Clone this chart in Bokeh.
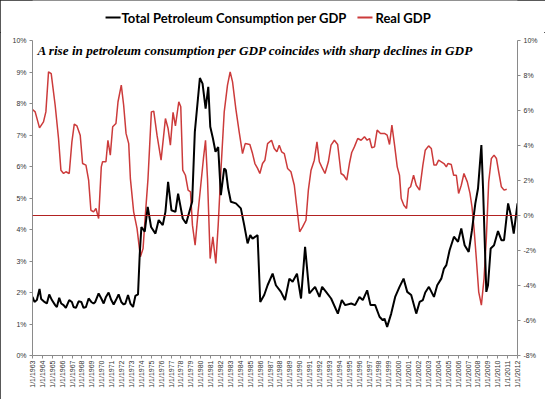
import math
from bokeh.plotting import figure
from bokeh.layouts import column
from bokeh.models import (Range1d, LinearAxis, FixedTicker, PrintfTickFormatter,
                          Span, Label)
from bokeh.core.properties import value
from bokeh.embed import file_html
from bokeh.resources import INLINE

# ---- data ----
petro_year = [1963.0, 1963.2, 1963.44, 1963.71, 1963.88, 1964.21, 1964.45, 1964.69, 1964.96,
              1965.29, 1965.46, 1965.7, 1965.9, 1966.14, 1966.37, 1966.71, 1966.98, 1967.15,
              1967.39, 1967.66, 1967.93, 1968.16, 1968.4, 1968.67, 1968.94, 1969.17, 1969.34,
              1969.68, 1969.95, 1970.19, 1970.42, 1970.69, 1970.96, 1971.2, 1971.43, 1971.7,
              1971.97, 1972.21, 1972.38, 1972.65, 1972.89, 1973.16, 1973.39, 1973.66, 1973.83,
              1974.0, 1974.34, 1974.64, 1974.98, 1975.42, 1975.75, 1976.16, 1976.43, 1976.7,
              1977.04, 1977.44, 1977.71, 1978.18, 1978.52, 1979.13, 1979.4, 1979.91, 1980.18,
              1980.49, 1980.76, 1980.96, 1981.23, 1981.49, 1981.76, 1982.03, 1982.37, 1982.54,
              1982.77, 1983.04, 1983.55, 1984.05, 1984.39, 1984.73, 1985.0, 1985.23, 1985.74,
              1986.01, 1986.41, 1986.75, 1987.26, 1987.59, 1988.1, 1988.51, 1988.95, 1989.28,
              1989.72, 1990.13, 1990.54, 1990.97, 1991.55, 1991.99, 1992.26, 1992.66, 1993.17,
              1993.85, 1994.25, 1994.59, 1995.2, 1995.59, 1996.03, 1996.37, 1996.81, 1997.15,
              1997.62, 1998.06, 1998.39, 1998.56, 1998.83, 1999.24, 1999.64, 2000.08, 2000.49,
              2000.86, 2001.26, 2001.77, 2002.11, 2002.44, 2002.68, 2003.05, 2003.56, 2003.89,
              2004.3, 2004.57, 2004.81, 2005.14, 2005.58, 2005.99, 2006.32, 2006.66, 2007.07,
              2007.4, 2007.74, 2008.01, 2008.35, 2008.52, 2008.85, 2009.02, 2009.29, 2009.63,
              2010.03, 2010.37, 2010.64, 2011.05, 2011.32, 2011.62, 2012.0]
petro_pct = [1.86, 1.70, 1.76, 2.11, 1.79, 1.70, 1.65, 1.94, 1.76,
             1.60, 1.54, 1.83, 1.65, 1.60, 1.51, 1.76, 1.70, 1.54,
             1.51, 1.72, 1.70, 1.51, 1.54, 1.81, 1.70, 1.65, 1.70,
             1.97, 1.81, 1.65, 1.86, 2.00, 1.76, 1.62, 1.76, 1.94,
             1.70, 1.62, 1.65, 1.92, 1.65, 1.54, 1.89, 1.94, 3.19,
             4.08, 3.93, 4.72, 4.08, 3.87, 4.30, 4.14, 4.56, 5.51,
             4.61, 4.56, 5.14, 4.35, 4.19, 4.88, 7.10, 8.81, 8.63,
             7.84, 8.53, 7.26, 6.89, 6.47, 6.62, 5.09, 5.94, 5.88,
             5.30, 4.88, 4.83, 4.67, 4.14, 3.56, 3.82, 3.71, 3.82,
             1.70, 1.92, 2.23, 2.60, 2.23, 2.02, 1.76, 2.44, 2.34,
             2.60, 1.81, 3.45, 1.97, 2.18, 1.86, 2.18, 2.02, 1.81,
             1.33, 1.76, 1.60, 1.65, 1.60, 1.86, 1.76, 2.07, 1.60,
             1.60, 1.23, 1.12, 1.17, 0.91, 1.33, 1.86, 2.18, 2.44,
             2.02, 1.92, 1.33, 1.70, 1.76, 2.00, 2.18, 1.86, 2.23,
             2.44, 2.76, 2.87, 3.34, 3.77, 3.61, 4.03, 3.50, 3.29,
             3.98, 4.83, 5.30, 6.68, 5.30, 2.02, 2.23, 3.40, 3.50,
             3.95, 3.66, 3.66, 4.83, 4.46, 3.87, 4.83]

gdp_year = [1963.0, 1963.27, 1963.71, 1964.11, 1964.35, 1964.62, 1964.89, 1965.29, 1965.63,
            1965.87, 1966.14, 1966.37, 1966.71, 1966.98, 1967.22, 1967.49, 1967.82, 1968.06,
            1968.4, 1968.67, 1968.9, 1969.17, 1969.41, 1969.68, 1969.95, 1970.08, 1970.42,
            1970.62, 1970.86, 1971.1, 1971.43, 1971.64, 1971.97, 1972.21, 1972.45, 1972.72,
            1972.89, 1973.22, 1973.56, 1973.9, 1974.17, 1974.4, 1974.67, 1975.01, 1975.25,
            1975.58, 1975.99, 1976.43, 1976.7, 1976.93, 1977.2, 1977.44, 1977.78, 1977.98,
            1978.18, 1978.45, 1978.72, 1978.96, 1979.16, 1979.43, 1979.73, 1980.0, 1980.27,
            1980.48, 1980.68, 1980.95, 1981.22, 1981.52, 1981.76, 1982.03, 1982.37, 1982.7,
            1982.97, 1983.21, 1983.54, 1983.88, 1984.22, 1984.49, 1984.96, 1985.23, 1985.47,
            1985.74, 1985.97, 1986.24, 1986.48, 1986.75, 1987.15, 1987.42, 1987.69, 1987.93,
            1988.17, 1988.44, 1988.77, 1989.11, 1989.45, 1989.72, 1989.99, 1990.29, 1990.63,
            1990.87, 1991.14, 1991.47, 1991.74, 1991.98, 1992.22, 1992.55, 1992.89, 1993.16,
            1993.5, 1993.83, 1994.17, 1994.44, 1994.75, 1995.02, 1995.25, 1995.52, 1995.86,
            1996.2, 1996.54, 1996.81, 1997.05, 1997.28, 1997.55, 1997.82, 1998.16, 1998.56,
            1998.83, 1999.07, 1999.31, 1999.58, 1999.85, 2000.08, 2000.25, 2000.52, 2000.79,
            2000.99, 2001.2, 2001.5, 2001.77, 2002.11, 2002.44, 2002.68, 2003.02, 2003.29,
            2003.56, 2003.79, 2004.03, 2004.3, 2004.57, 2004.81, 2004.97, 2005.31, 2005.55,
            2005.82, 2006.05, 2006.32, 2006.59, 2006.93, 2007.2, 2007.4, 2007.61, 2007.84,
            2008.08, 2008.35, 2008.62, 2008.85, 2009.09, 2009.36, 2009.63, 2009.87, 2010.1,
            2010.37, 2010.64, 2010.91]
gdp_pct = [6.06, 5.92, 5.01, 5.35, 5.92, 8.21, 8.11, 6.30, 4.40,
           2.59, 2.40, 2.50, 2.40, 4.21, 5.22, 5.12, 4.59, 2.97,
           2.88, 2.02, 0.30, 0.21, 0.40, -0.17, 2.78, 3.07, 3.07,
           4.30, 3.45, 5.07, 5.26, 6.50, 7.45, 6.30, 4.69, 4.11,
           2.11, 0.21, -0.74, -2.36, -1.89, 0.02, 2.11, 5.92, 5.96,
           4.59, 3.16, 5.54, 4.97, 4.02, 5.89, 5.12, 6.50, 6.21,
           2.59, 2.30, 1.45, 1.35, -0.55, -1.70, 0.21, 1.73, 3.26,
           4.30, 2.11, -2.46, -1.22, -2.74, -0.55, 2.50, 5.92, 7.45,
           8.21, 7.64, 6.11, 4.78, 3.54, 4.11, 4.06, 3.54, 2.97,
           2.69, 2.40, 2.97, 3.16, 4.11, 4.30, 3.83, 3.64, 4.02,
           3.64, 3.54, 2.69, 2.50, 1.73, 0.40, -0.93, -0.65, -0.27,
           1.45, 2.59, 3.16, 4.21, 3.07, 2.78, 2.40, 3.07, 4.02,
           4.30, 4.06, 2.40, 2.30, 2.02, 2.97, 3.60, 3.92, 4.40,
           4.30, 4.50, 4.30, 4.40, 3.87, 3.92, 4.88, 4.69, 4.69,
           4.59, 4.06, 5.16, 4.02, 2.78, 2.30, 0.97, 0.59, 0.40,
           1.54, 1.64, 2.30, 1.73, 1.45, 2.88, 3.73, 3.98, 3.83,
           2.88, 2.88, 3.16, 3.07, 2.97, 2.78, 2.97, 2.91, 2.30,
           2.30, 1.26, 1.73, 2.40, 1.92, 1.26, 0.50, -0.74, -2.46,
           -4.36, -5.12, -3.60, -1.31, 1.92, 3.26, 3.45, 3.26, 2.50,
           1.64, 1.45, 1.50]

tick_years = list(range(1963, 2013))
tick_labels = {y: f"1/1/{y}" for y in tick_years}
left_ticks = list(range(0, 11))
right_ticks = list(range(-8, 11, 2))

series_names = ["Total Petroleum Consumption per GDP", "Real GDP"]
series_colors = ["black", "#CC3B3B"]
note = "A rise in petroleum consumption per GDP coincides with sharp declines in GDP"

W = 545
BL, BR = 32, 28  # side borders shared by both strips so the frames line up

# ---- legend strip (shares the year axis of the chart) ----
leg = figure(width=W, height=32, x_range=Range1d(1963, 2012), y_range=Range1d(0, 32),
             output_backend="svg", toolbar_location=None,
             x_axis_type=None, y_axis_type=None,
             min_border_left=BL, min_border_right=BR, min_border_top=0, min_border_bottom=0)
leg.outline_line_color = None
leg.xgrid.grid_line_color = None
leg.ygrid.grid_line_color = None
leg.segment(x0=[1970.38, 1995.83], y0=[15, 15], x1=[1971.9, 1997.35], y1=[15, 15],
            line_color=series_colors, line_width=2)
leg.text(x=[1972.0, 1997.65], y=[15, 15], text=series_names, text_baseline="middle",
         text_font=value("Lato"), text_font_style="bold", text_font_size="13px",
         text_color="black")

# ---- main chart ----
p = figure(width=W, height=367, x_range=Range1d(1963, 2012), y_range=Range1d(0, 10),
           output_backend="svg", toolbar_location=None,
           min_border_left=BL, min_border_right=BR, min_border_top=8, min_border_bottom=44)
p.extra_y_ranges = {"gdp": Range1d(-8, 10)}
p.outline_line_color = None
p.xgrid.grid_line_color = None
p.ygrid.grid_line_color = None

axis_col = "#8a8a8a"
lab_col = "#333333"
lab_font = "Liberation Sans"


def style_axis(ax):
    ax.major_label_text_font_size = "7px"
    ax.major_label_text_font = lab_font
    ax.major_label_text_color = lab_col
    ax.axis_line_color = axis_col
    ax.major_tick_line_color = axis_col
    ax.major_tick_out = 3
    ax.major_tick_in = 0
    ax.minor_tick_line_color = None


xa = p.xaxis[0]
xa.ticker = FixedTicker(ticks=tick_years)
xa.major_label_overrides = tick_labels
xa.major_label_orientation = math.pi / 2
style_axis(xa)
xa.major_label_standoff = 2

ya = p.yaxis[0]
ya.ticker = FixedTicker(ticks=left_ticks)
ya.formatter = PrintfTickFormatter(format="%d%%")
style_axis(ya)
ya.major_label_standoff = 3

ra = LinearAxis(y_range_name="gdp", ticker=FixedTicker(ticks=right_ticks),
                formatter=PrintfTickFormatter(format="%d%%"))
style_axis(ra)
ra.major_label_standoff = 3
p.add_layout(ra, "right")

p.add_layout(Span(location=0, dimension="width", y_range_name="gdp",
                  line_color="#B22222", line_width=1.2))

p.line(gdp_year, gdp_pct, y_range_name="gdp", line_color=series_colors[1], line_width=1.5)
p.line(petro_year, petro_pct, line_color=series_colors[0], line_width=2)

p.add_layout(Label(x=1963.5, y=9.93, text=note, text_baseline="top",
                   text_font="Liberation Serif", text_font_style="bold italic",
                   text_font_size="13.2px", text_color="black"))

layout = column(leg, p, spacing=0,
                styles={"outline": "1px solid #222", "outline-offset": "-1px"})
open("out.html", "w").write(file_html(layout, INLINE))
